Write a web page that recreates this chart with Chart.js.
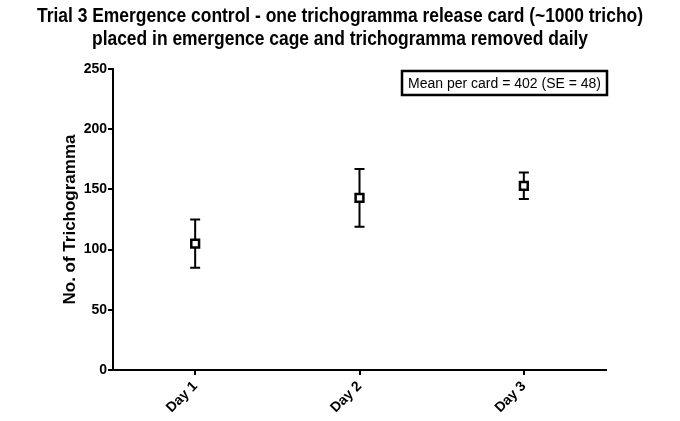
<!DOCTYPE html>
<html>
<head>
<meta charset="utf-8">
<script src="https://cdn.jsdelivr.net/npm/chart.js@4.4.0/dist/chart.umd.min.js"></script>
<style>
  html, body { margin: 0; padding: 0; background: #fff; }
  #wrap { width: 680px; height: 421px; position: relative; }
</style>
</head>
<body>
<div id="wrap"><canvas id="chart"></canvas></div>
<script>
// данные
const days = ['Day 1', 'Day 2', 'Day 3'];
const meanCounts = [105, 143, 153];
const seCounts = [20, 24, 11];
const titleLines = [
  'Trial 3 Emergence control - one trichogramma release card (~1000 tricho)',
  'placed in emergence cage and trichogramma removed daily'
];
const noteText = 'Mean per card = 402 (SE = 48)';
const yTicks = [0, 50, 100, 150, 200, 250];

const FONT = "'Liberation Sans', Arial, sans-serif";

// Заголовок: узкий жирный шрифт (сжимаем по горизонтали)
const condensedTitle = {
  id: 'condensedTitle',
  afterDraw(chart) {
    const ctx = chart.ctx;
    const cx = chart.width / 2;
    ctx.save();
    ctx.fillStyle = '#000';
    ctx.font = 'bold 20px ' + FONT;
    ctx.textAlign = 'center';
    ctx.textBaseline = 'middle';
    const ys = [16, 39];
    // общий коэффициент сжатия по первой строке
    const k = Math.min(1, 606 / ctx.measureText(titleLines[0]).width);
    titleLines.forEach((line, i) => {
      ctx.save();
      ctx.translate(cx, ys[i]);
      ctx.scale(k, 1);
      ctx.fillText(line, 0, 0);
      ctx.restore();
    });
    ctx.restore();
  }
};

// Усы ошибок (mean ± SE) через шкалы графика
const errorBars = {
  id: 'errorBars',
  beforeDatasetsDraw(chart) {
    const ctx = chart.ctx;
    const x = chart.scales.x, y = chart.scales.y;
    ctx.save();
    ctx.strokeStyle = '#000';
    ctx.lineWidth = 2;
    meanCounts.forEach((m, i) => {
      const px = x.getPixelForValue(i);
      const top = y.getPixelForValue(m + seCounts[i]);
      const bot = y.getPixelForValue(m - seCounts[i]);
      ctx.beginPath();
      ctx.moveTo(px, top); ctx.lineTo(px, bot);
      ctx.moveTo(px - 5, top); ctx.lineTo(px + 5, top);
      ctx.moveTo(px - 5, bot); ctx.lineTo(px + 5, bot);
      ctx.stroke();
    });
    ctx.restore();
  }
};

// Рамка с подписью в правом верхнем углу
const noteBox = {
  id: 'noteBox',
  afterDraw(chart) {
    const ctx = chart.ctx;
    const area = chart.chartArea;
    ctx.save();
    ctx.font = '14px ' + FONT;
    const w = ctx.measureText(noteText).width + 12;
    const h = 24;
    const right = area.right + 1;
    const top = area.top + 2;
    ctx.strokeStyle = '#000';
    ctx.lineWidth = 2.5;
    ctx.strokeRect(right - w, top, w, h);
    ctx.fillStyle = '#000';
    ctx.textBaseline = 'middle';
    ctx.fillText(noteText, right - w + 6, top + h / 2 + 1);
    ctx.restore();
  }
};

new Chart(document.getElementById('chart'), {
  type: 'line',
  data: {
    labels: days,
    datasets: [{
      data: meanCounts,
      showLine: false,
      pointStyle: 'rect',
      pointRadius: 5.5,
      pointHoverRadius: 5.5,
      pointBackgroundColor: '#fff',
      pointBorderColor: '#000',
      pointBorderWidth: 2.5
    }]
  },
  options: {
    responsive: true,
    maintainAspectRatio: false,
    animation: false,
    layout: { padding: { top: 69, right: 74, bottom: 0, left: 60 } },
    plugins: {
      legend: { display: false },
      tooltip: { enabled: false },
      title: { display: false }
    },
    scales: {
      x: {
        type: 'category',
        offset: true,
        border: { color: '#000', width: 2 },
        grid: { drawOnChartArea: false, drawTicks: true, tickLength: 5, color: '#000', lineWidth: 2 },
        ticks: {
          color: '#000',
          maxRotation: 45,
          minRotation: 45,
          padding: 3,
          font: { family: FONT, size: 14, weight: 'bold' }
        },
        afterFit(scale) { scale.height = 51; }
      },
      y: {
        min: 0,
        max: 250,
        afterBuildTicks(scale) { scale.ticks = yTicks.map(v => ({ value: v })); },
        border: { color: '#000', width: 2 },
        grid: { drawOnChartArea: false, drawTicks: true, tickLength: 5, color: '#000', lineWidth: 2 },
        ticks: {
          color: '#000',
          padding: 1,
          font: { family: FONT, size: 14, weight: 'bold' }
        },
        title: {
          display: true,
          text: 'No. of Trichogramma',
          color: '#000',
          font: { family: FONT, size: 17, weight: 'bold' },
          padding: { top: 0, bottom: 0 }
        },
        afterFit(scale) { scale.width = 53; }
      }
    }
  },
  plugins: [errorBars, noteBox, condensedTitle]
});
</script>
</body>
</html>
